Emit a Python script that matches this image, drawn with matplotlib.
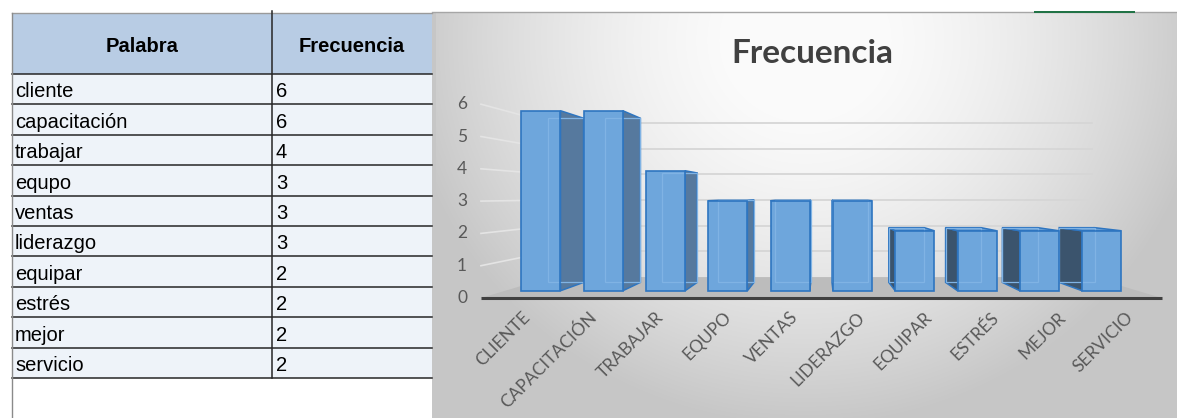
import numpy as np
import matplotlib.pyplot as plt
from matplotlib.patches import Polygon, Rectangle

# tabla de frecuencias de palabras
palabras = ['cliente', 'capacitación', 'trabajar', 'equpo', 'ventas',
            'liderazgo', 'equipar', 'estrés', 'mejor', 'servicio']
frecuencias = [6, 6, 4, 3, 3, 3, 2, 2, 2, 2]
valores_eje = [0, 1, 2, 3, 4, 5, 6]

W, H = 1177, 418
fig = plt.figure(figsize=(W / 100, H / 100), dpi=100)
ax = fig.add_axes([0, 0, 1, 1])

# ---------------- tabla (izquierda) ----------------
tx0, tx1, tx2 = 12, 272, 432
ty0, ty1, alto = 13, 74, 30.4
ax.add_patch(Rectangle((tx0, ty0), tx2 - tx0, ty1 - ty0, fc='#b8cce4', ec='none', zorder=1))
ax.text((tx0 + tx1) / 2, 52, 'Palabra', ha='center', va='baseline',
        fontsize=14.5, fontweight='bold', family='Liberation Sans', zorder=3)
ax.text((tx1 + tx2) / 2, 52, 'Frecuencia', ha='center', va='baseline',
        fontsize=14.5, fontweight='bold', family='Liberation Sans', zorder=3)
for i, (p, f) in enumerate(zip(palabras, frecuencias)):
    top = ty1 + i * alto
    ax.add_patch(Rectangle((tx0, top), tx2 - tx0, alto, fc='#eef3f9', ec='none', zorder=1))
    ax.text(tx0 + 3, top + alto - 7, p, fontsize=14.5, family='Liberation Sans',
            va='baseline', zorder=3)
    ax.text(tx1 + 4, top + alto - 7, str(f), fontsize=14.5, family='Liberation Sans',
            va='baseline', zorder=3)
ybot = ty1 + len(palabras) * alto
for k in range(len(palabras) + 1):
    y = ty1 + k * alto
    ax.plot([tx0, tx2], [y, y], color='#262626', lw=1.1, zorder=2)
ax.plot([tx0, tx2], [ty0, ty0], color='#9a9a9a', lw=1, zorder=2)
ax.plot([tx1, tx1], [ty0 - 2, ybot], color='#262626', lw=1.1, zorder=2)
ax.plot([tx0, tx0], [ty0, H], color='#8a8a8a', lw=1, zorder=2)

# ---------------- area del grafico ----------------
cx0, cy0 = 432, 12
yy, xx = np.mgrid[cy0:H, cx0:W]
r = np.hypot(xx - 805, (yy - 40) * 1.05)
g = np.clip(254 - 50 * (r / 380) ** 1.7, 198, 250) / 255
ax.imshow(np.dstack([g, g, g]), extent=(cx0, W, H, cy0), aspect='auto',
          interpolation='bilinear', zorder=0)
ax.add_patch(Rectangle((cx0, cy0), 4, H - cy0, fc='#c6c6c6', ec='none', zorder=1))
ax.plot([cx0, W], [cy0, cy0], color='#a6a6a6', lw=1, zorder=2)
ax.add_patch(Rectangle((1034, 10.5), 101, 2.5, fc='#217346', ec='none', zorder=3))

ax.text(812, 63, 'Frecuencia', ha='center', va='baseline', fontsize=24,
        fontweight='bold', color='#404040', family='Lato', zorder=3)

# proyeccion en perspectiva: x, y del plano frontal -> pixeles
VX, VY = 822, 196
Y0, ESC = 298, 32.3
X0, PASO = 519.5, 67.06
MEDIO = 21
F_FRENTE, F_BARRA, F_FONDO, F_PARED = 1.0, 0.929, 0.847, 0.795


def proy(x, v, f):
    return VX + (x - VX) * f, VY + (Y0 - ESC * v - VY) * f


n = len(palabras)
x_lo = X0 - PASO / 2 - 5
x_hi = X0 + PASO * (n - 1) + PASO / 2 + 5

# paredes: lineas de division
for v in valores_eje[1:]:
    a = proy(x_lo, v, F_FRENTE)
    b = proy(x_lo, v, F_PARED)
    c = proy(x_hi, v, F_PARED)
    ax.plot([a[0], b[0]], [a[1], b[1]], color='#e4e4e4', lw=1.2, zorder=2)
    ax.plot([b[0], c[0]], [b[1], c[1]], color='#d6d6d6', lw=1.3, zorder=2)

# piso
piso = [proy(x_lo, 0, F_FRENTE), proy(x_hi, 0, F_FRENTE),
        proy(x_hi, 0, F_PARED), proy(x_lo, 0, F_PARED)]
ax.add_patch(Polygon(piso, closed=True, fc='#bcbcbc', ec='none', zorder=2))
a, b = proy(x_lo, 0, F_FRENTE), proy(x_hi, 0, F_FRENTE)
ax.plot([a[0], b[0]], [a[1], b[1]], color='#404040', lw=2.2,
        solid_capstyle='butt', zorder=3)

for v in valores_eje:
    ax.text(462, Y0 - ESC * v, str(v), ha='center', va='center', fontsize=12.5,
            color='#595959', family='Lato', zorder=3)

# barras
BORDE = '#2e75c0'
for i, (p, f) in enumerate(zip(palabras, frecuencias)):
    xc = X0 + PASO * i
    xl, xr = xc - MEDIO, xc + MEDIO
    frente = [proy(xl, 0, F_BARRA), proy(xr, 0, F_BARRA),
              proy(xr, f, F_BARRA), proy(xl, f, F_BARRA)]
    fondo = [proy(xl, 0, F_FONDO), proy(xr, 0, F_FONDO),
             proy(xr, f, F_FONDO), proy(xl, f, F_FONDO)]
    if xc < VX:
        xs, col = xr, '#56799e'
    else:
        xs, col = xl, '#3b546d'
    lado = [proy(xs, 0, F_BARRA), proy(xs, f, F_BARRA),
            proy(xs, f, F_FONDO), proy(xs, 0, F_FONDO)]
    ax.add_patch(Polygon(lado, closed=True, fc=col, ec=BORDE, lw=1.1, zorder=4))
    if Y0 - ESC * f > VY:
        tapa = [proy(xl, f, F_BARRA), proy(xr, f, F_BARRA),
                proy(xr, f, F_FONDO), proy(xl, f, F_FONDO)]
        ax.add_patch(Polygon(tapa, closed=True, fc='#6a9fd4', ec=BORDE, lw=1.1, zorder=4))
    ax.add_patch(Polygon(frente, closed=True, fc='#6ea6dc', ec='none', zorder=5))
    ax.add_patch(Polygon(fondo, closed=True, fc='none', ec='#80b3e4', lw=0.9, zorder=6))
    ax.add_patch(Polygon(frente, closed=True, fc='none', ec=BORDE, lw=1.2, zorder=7))

    ax.text(xc + 2, 309, p.upper(), rotation=45, rotation_mode='anchor',
            ha='right', va='top', fontsize=12.5, color='#595959', family='Lato', zorder=3)

ax.set_xlim(0, W)
ax.set_ylim(H, 0)
ax.axis('off')
fig.savefig('out.png', dpi=100)
